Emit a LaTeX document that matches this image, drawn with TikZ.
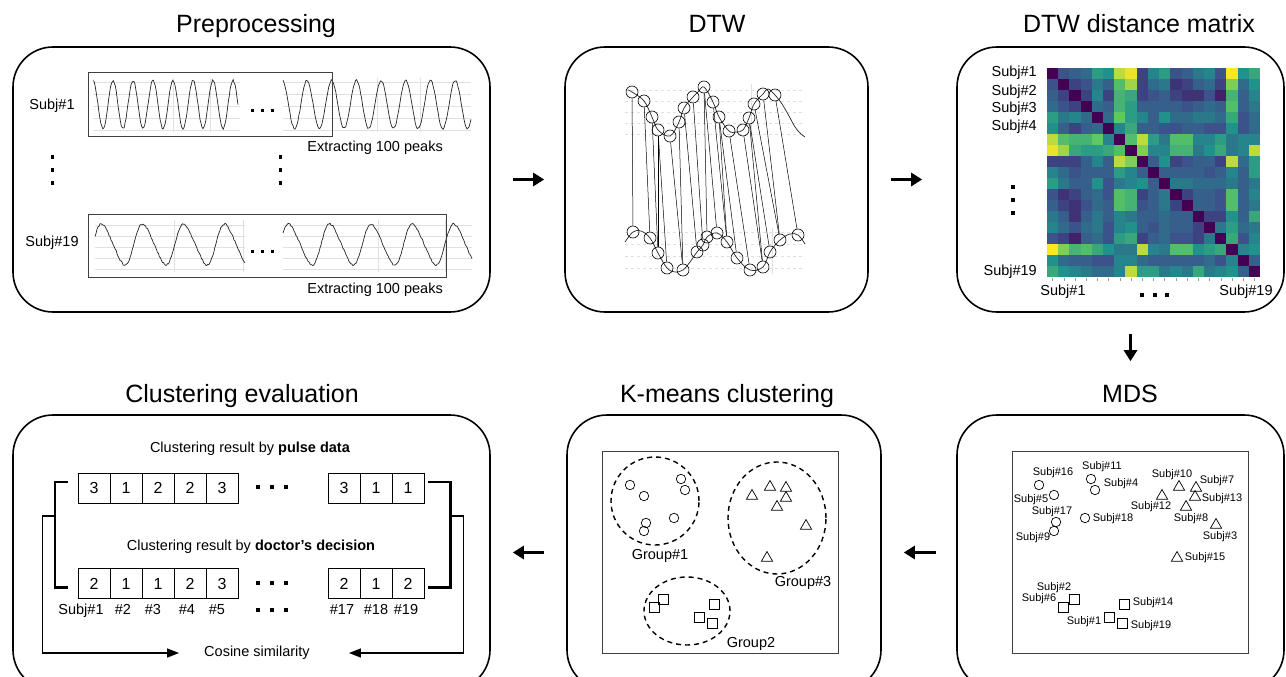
\documentclass[tikz,border=0pt]{standalone}
\usepackage{fontspec}
\setmainfont{Liberation Sans}
\usepackage{tikz}
\usetikzlibrary{shapes.geometric, arrows, arrows.meta}
\definecolor{vir0}{RGB}{68,1,84}
\definecolor{vir1}{RGB}{59,82,139}
\definecolor{vir2}{RGB}{33,145,140}
\definecolor{vir3}{RGB}{94,201,98}
\definecolor{vir4}{RGB}{253,231,37}
\tikzstyle{arrow} = [line width=3.5pt,-{Triangle[length=11pt,width=13pt]}]
\tikzstyle{flow} = [line width=1.6pt,-{Triangle[length=12pt,width=9pt]}]
\tikzstyle{brk} = [line width=2.2pt]
\tikzstyle{panel} = [draw, line width=1.6pt, rounded corners=40pt, inner sep=0pt]
\tikzstyle{title} = [font=\fontsize{25}{30}\selectfont, anchor=base]
\tikzstyle{lbl} = [font=\fontsize{14.5}{17}\selectfont, inner sep=0pt]
\tikzstyle{small} = [font=\fontsize{11}{13}\selectfont, inner sep=0pt]
\tikzstyle{wave} = [line width=0.7pt, black!85]
\tikzstyle{faint} = [black!12, line width=0.5pt]
\tikzstyle{ring} = [circle, draw, minimum size=12pt, inner sep=0pt, line width=0.6pt]
\tikzstyle{ptc} = [circle, draw, minimum size=9.5pt, inner sep=0pt, line width=0.7pt]
\tikzstyle{ptt} = [regular polygon, regular polygon sides=3, draw, minimum size=13pt, inner sep=0pt, line width=0.7pt]
\tikzstyle{pts} = [rectangle, draw, minimum size=10pt, inner sep=0pt, line width=0.7pt]
\tikzstyle{cell} = [rectangle, draw, minimum width=32pt, minimum height=30pt, inner sep=0pt, line width=0.8pt, font=\fontsize{16}{18}\selectfont]
\tikzstyle{group} = [draw, line width=1.4pt, dash pattern=on 5pt off 4pt]
\tikzstyle{frame} = [line width=0.8pt, black!75]

\begin{document}
\begin{tikzpicture}[x=1pt,y=-1pt]
	\useasboundingbox (0,0) rectangle (1286,677);
	\clip (0,0) rectangle (1286,677);
	\fill[white] (0,0) rectangle (1286,677);
	\pgfmathsetseed{7}

	% panels and titles
	\node[panel, minimum width=477pt, minimum height=265pt] (prep) at (251.5,179.5) {};
	\node[panel, minimum width=303pt, minimum height=265pt] (dtw) at (716.5,179.5) {};
	\node[panel, minimum width=327pt, minimum height=265pt] (mat) at (1120.5,179.5) {};
	\node[panel, minimum width=327pt, minimum height=275pt] (mds) at (1120.5,552.5) {};
	\node[panel, minimum width=314pt, minimum height=275pt] (km) at (724,552.5) {};
	\node[panel, minimum width=477pt, minimum height=275pt] (eval) at (251.5,552.5) {};
	\node[title] (tprep) at (256,33) {Preprocessing};
	\node[title] (tdtw) at (717,33) {DTW};
	\node[title] (tmat) at (1139,33) {DTW distance matrix};
	\node[title] (tmds) at (1130,402) {MDS};
	\node[title] (tkm) at (727,402) {K-means clustering};
	\node[title] (teval) at (242,402) {Clustering evaluation};

	\draw[arrow] ([xshift=22pt]prep.east) -- ([xshift=-20pt]dtw.west);
	\draw[arrow] ([xshift=22pt]dtw.east) -- ([xshift=-34pt]mat.west);
	\draw[arrow] ([xshift=10pt,yshift=-21pt]mat.south) -- ([xshift=10pt,yshift=53pt]mds.north);
	\draw[arrow] ([xshift=-20pt]mds.west) -- ([xshift=22pt]km.east);
	\draw[arrow] ([xshift=-22pt]km.west) -- ([xshift=22pt]eval.east);

	% preprocessing
	\foreach \yy in {82,94,106,118,130} {
		\draw[faint] (93,\yy) -- (240,\yy);
		\draw[faint] (283,\yy) -- (471,\yy);
	}
	\foreach \yy in {225,236,247,258,269} {
		\draw[faint] (95,\yy) -- (245,\yy);
		\draw[faint] (283,\yy) -- (472,\yy);
	}
	\foreach \xx in {173,210,377,420} \draw[faint] (\xx,78) -- (\xx,132);
	\foreach \xx in {174,243,378,445} \draw[faint] (\xx,220) -- (\xx,272);
	\draw[wave] plot[domain=93:238, samples=150] (\x,{104.5-24*cos(18*(\x-113))+0.9*rand});
	\draw[wave] plot[domain=283:471, samples=190] (\x,{104.5-24*cos(14.575*(\x-307))+0.9*rand});
	\draw[wave] plot[domain=95:245, samples=150] (\x,{244.5-20*cos(8.78*(\x-103))+2.5*sin(17.56*(\x-103))+0.9*rand});
	\draw[wave] plot[domain=283:472, samples=190] (\x,{244.5-20*cos(8.72*(\x-290))+2.5*sin(17.44*(\x-290))+0.9*rand});
	\draw[frame] (88,72) rectangle (332,136);
	\draw[frame] (88,214) rectangle (446,277);
	\foreach \xx in {252,262,272} {
		\fill ({\xx-1.5},108.5) rectangle ++(3,3);
		\fill ({\xx-1.5},249.5) rectangle ++(3,3);
	}
	\foreach \yy in {157,170,183} {
		\fill (50.5,{\yy-1.8}) rectangle ++(3.6,3.6);
		\fill (278.5,{\yy-1.8}) rectangle ++(3.6,3.6);
	}
	\node[lbl] (p1) at (52,106) {Subj\#1};
	\node[lbl] (p19) at (52,243) {Subj\#19};
	\node[lbl, anchor=east] (ex1) at (443,148) {Extracting 100 peaks};
	\node[lbl, anchor=east] (ex19) at (443,290) {Extracting 100 peaks};

	% DTW
	\foreach \yy in {90,101,112,123,134} \draw[faint, dashed] (625,\yy) -- (805,\yy);
	\foreach \yy in {232,244,256,268} \draw[faint, dashed] (625,\yy) -- (805,\yy);
	\draw[faint] (751,84) -- (751,140);
	\draw[faint] (772,228) -- (772,274);
	\draw[wave] plot[smooth, tension=0.6] coordinates {(628,90) (632,92) (644,101) (652,117) (658,130) (670,136) (679,122) (684,108) (693,97) (698,92) (704,87) (713,102) (719,117) (729,131) (736,132) (743,130) (749,118) (754,104) (763,94) (768,89) (775,95) (782,104) (789,116) (795,127) (800,133) (805,137)};
	\draw[wave] plot[smooth, tension=0.6] coordinates {(625,242) (633,232) (641,231) (650,238) (658,253) (667,268) (675,272) (683,270) (690,262) (697,252) (703,245) (707,237) (717,233) (727,242) (737,258) (750,270) (763,267) (770,252) (780,240) (790,234) (798,235) (805,244)};
	\foreach \px/\py [count=\k] in {632/92, 644/101, 652/117, 658/130, 670/136, 679/122, 684/108, 693/97, 704/87, 713/102, 719/117, 729/131, 743/130, 749/118, 754/104, 763/94, 775/95}
		\node[ring] (t\k) at (\px,\py) {};
	\foreach \px/\py [count=\k] in {633/232, 650/238, 658/253, 667/268, 683/270, 697/252, 703/245, 707/237, 717/233, 727/242, 737/258, 750/270, 763/267, 770/252, 780/240, 798/235}
		\node[ring] (b\k) at (\px,\py) {};
	\foreach \a/\b in {1/1, 2/2, 3/3, 4/3, 4/4, 5/5, 6/5, 7/6, 8/7, 9/8, 9/9, 10/10, 11/10, 11/11, 12/12, 13/13, 14/13, 14/14, 15/15, 16/15, 17/16}
		\draw[line width=0.5pt] (t\a) -- (b\b);

	% distance matrix
	\foreach \row [count=\rr] in {
		{0,25,30,35,55,50,90,97,20,45,55,25,30,40,45,25,100,50,60},
		{25,0,20,25,40,30,70,85,20,35,40,15,20,30,35,20,80,35,50},
		{30,20,0,20,45,20,65,60,20,25,30,20,15,15,25,10,65,30,45},
		{35,25,20,0,35,30,65,55,30,30,30,30,25,30,35,30,70,30,40},
		{55,40,45,35,0,35,75,55,45,30,50,35,35,40,40,35,60,25,35},
		{50,30,20,30,35,0,45,60,30,30,25,25,30,30,25,25,50,25,35},
		{90,70,65,65,75,45,0,70,90,55,40,70,70,45,45,55,40,45,45},
		{97,85,60,55,55,60,70,0,80,45,45,65,65,40,50,60,40,45,90},
		{20,20,20,30,45,30,90,80,0,30,50,20,25,30,30,20,90,35,55},
		{45,35,25,30,30,30,55,45,30,0,30,30,30,30,25,30,45,30,55},
		{55,40,30,30,50,25,40,45,50,30,0,40,40,35,35,35,40,30,40},
		{25,15,20,30,35,25,70,65,20,30,40,0,20,30,30,25,70,30,45},
		{30,20,15,25,35,30,70,65,25,30,40,20,0,30,30,25,70,30,40},
		{40,30,15,30,40,30,45,40,30,30,35,30,30,0,20,20,50,30,60},
		{45,35,25,35,40,25,45,50,30,25,35,30,30,20,0,40,55,35,40},
		{25,20,10,30,35,25,55,60,20,30,35,25,25,20,40,0,60,25,45},
		{100,80,65,70,60,50,40,40,90,45,40,70,70,50,55,60,0,45,50},
		{50,35,30,30,25,25,45,45,35,30,30,30,30,30,35,25,45,0,30},
		{60,50,45,40,35,35,45,90,55,55,40,45,40,60,40,45,50,30,0}} {
		\foreach \val [count=\cc] in \row {
			\pgfmathsetmacro{\sg}{int(min(3,floor(\val/25)))}
			\pgfmathsetmacro{\nx}{int(\sg+1)}
			\pgfmathsetmacro{\pc}{int(round(100-4*(\val-25*\sg)))}
			\fill[vir\sg!\pc!vir\nx] ({1047+(\cc-1)*11.21},{68+(\rr-1)*11}) rectangle ++(11.5,11.3);
		}
	}
	\foreach \cc in {1,...,19} \draw[black!40, line width=0.5pt] ({1047+(\cc-0.5)*11.21},278) -- ++(0,3);
	\node[lbl, anchor=east] (ms1) at (1037,73) {Subj\#1};
	\node[lbl, anchor=east] (ms2) at (1037,92) {Subj\#2};
	\node[lbl, anchor=east] (ms3) at (1037,109) {Subj\#3};
	\node[lbl, anchor=east] (ms4) at (1037,127) {Subj\#4};
	\node[lbl, anchor=east] (ms19) at (1037,272) {Subj\#19};
	\node[lbl] (mb1) at (1063,292) {Subj\#1};
	\node[lbl] (mb19) at (1246,292) {Subj\#19};
	\foreach \yy in {187,200,213} \fill (1011.2,{\yy-1.8}) rectangle ++(3.6,3.6);
	\foreach \xx in {1142,1155,1167} \fill ({\xx-1.8},293.2) rectangle ++(3.6,3.6);

	% MDS
	\draw[frame] (1012,451) rectangle (1248,653);
	\foreach \px/\py/\nm in {1039/485/16, 1054/495/5, 1056/522/17, 1054/531/9, 1091/479/11, 1095/490/4, 1085/518/18}
		\node[ptc] (mc\nm) at (\px,\py) {};
	\foreach \px/\py/\nm in {1179/487/10, 1196/488/7, 1162/496/12, 1195/497/13, 1186/507/8, 1216/525/3, 1177/558/15}
		\node[ptt] (mt\nm) at (\px,\py) {};
	\foreach \px/\py/\nm in {1074/599/2, 1063/607/6, 1124/604/14, 1109/617/1, 1122/623/19}
		\node[pts] (mq\nm) at (\px,\py) {};
	\foreach \px/\py/\nm in {1053/473/16, 1031/500/5, 1052/512/17, 1033/538/9, 1102/467/11, 1121/484/4, 1113/519/18, 1172/475/10, 1217/481/7, 1151/507/12, 1222/499/13, 1191/519/8, 1220/537/3, 1205/558/15, 1054/588/2, 1039/599/6, 1153/603/14, 1084/622/1, 1151/626/19}
		\node[small] (ml\nm) at (\px,\py) {Subj\#\nm};

	% K-means
	\draw[frame] (602,451) rectangle (838,653);
	\draw[group] (655,501) circle [radius=44pt];
	\draw[group] (777,518) ellipse [x radius=49pt, y radius=56pt];
	\draw[group] (687,611) ellipse [x radius=43pt, y radius=34pt];
	\foreach \px/\py [count=\k] in {630/485, 644/496, 681/479, 685/490, 646/523, 644/531, 674/518}
		\node[ptc] (kc\k) at (\px,\py) {};
	\foreach \px/\py [count=\k] in {752/496, 770/487, 786/488, 786/498, 777/507, 806/526, 767/558}
		\node[ptt] (kt\k) at (\px,\py) {};
	\foreach \px/\py [count=\k] in {663/599, 654/607, 714/604, 699/617, 712/623}
		\node[pts] (kq\k) at (\px,\py) {};
	\node[lbl] (g1) at (660,556) {Group\#1};
	\node[lbl] (g3) at (803,583) {Group\#3};
	\node[lbl] (g2) at (751,644) {Group2};

	% clustering evaluation
	\node[lbl] (rp) at (250,449) {Clustering result by \textbf{pulse data}};
	\node[lbl] (rd) at (251,547) {Clustering result by \textbf{doctor’s decision}};
	\foreach \val [count=\k] in {3,1,2,2,3} \node[cell] (u\k) at ({62+32*\k},488) {\val};
	\foreach \val/\k in {3/17,1/18,1/19} \node[cell] (u\k) at ({344+32*(\k-17)},488) {\val};
	\foreach \val [count=\k] in {2,1,1,2,3} \node[cell] (d\k) at ({62+32*\k},583.5) {\val};
	\foreach \val/\k in {2/17,1/18,2/19} \node[cell] (d\k) at ({344+32*(\k-17)},583.5) {\val};
	\foreach \px/\tx [count=\k] in {81/Subj\#1, 123/\#2, 153/\#3, 187/\#4, 217/\#5, 342/\#17, 376/\#18, 406/\#19}
		\node[lbl, anchor=base] (n\k) at (\px,614) {\tx};
	\foreach \xx in {258,272,286} {
		\fill ({\xx-1.8},485.2) rectangle ++(3.6,3.6);
		\fill ({\xx-1.8},581.2) rectangle ++(3.6,3.6);
		\fill ({\xx-1.8},608.2) rectangle ++(3.6,3.6);
	}
	\node[lbl] (cos) at (257,653) {Cosine similarity};
	\draw[brk] ([xshift=-10pt,yshift=6pt]u1.west) -- ++(-13,0) coordinate (lb) |- ([xshift=-10pt,yshift=-4pt]d1.west);
	\draw[brk] ([xshift=4pt,yshift=6pt]u19.east) -- ++(22,0) coordinate (rb) |- ([xshift=4pt,yshift=-4pt]d19.east);
	\draw[flow] ([yshift=-34pt]lb) -- ++(-12,0) |- ([xshift=-25pt]cos.west);
	\draw[flow] ([yshift=-34pt]rb) -- ++(13,0) |- ([xshift=39pt]cos.east);
\end{tikzpicture}
\end{document}
